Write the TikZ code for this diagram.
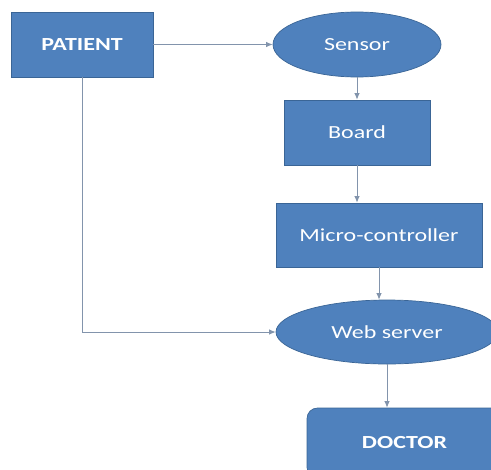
\documentclass[tikz,border=0pt]{standalone}
\usepackage{fontspec}
\setmainfont[FakeStretch=1.3]{Carlito}
\usepackage{tikz}
\usetikzlibrary{arrows.meta,positioning,shapes.geometric}
\definecolor{boxblue}{HTML}{4F81BD}
\definecolor{edgeblue}{HTML}{3A6596}
\definecolor{linkgray}{HTML}{8294AC}

\begin{document}
\begin{tikzpicture}[every node/.style={font=\fontsize{10.5}{12}\selectfont,text=white,align=center},
  box/.style={draw=edgeblue,fill=boxblue,minimum width=#1,minimum height=1.3cm,inner sep=0pt},
  oval/.style={ellipse,draw=edgeblue,fill=boxblue,minimum width=#1,minimum height=1.3cm,inner sep=0pt},
  link/.style={draw=linkgray,line width=0.5pt,-{Latex[length=1.3mm,width=1.1mm]}}]
\useasboundingbox (0,0) rectangle (9.82,-9.38);
\node[box=2.84cm] (patient) at (1.64,-0.89) {\bfseries PATIENT};
\node[oval=3.36cm] (sensor) at (7.14,-0.89) {Sensor};
\node[box=2.92cm] (board) at (7.14,-2.65) {Board};
\node[box=4.12cm,minimum height=1.28cm] (micro) at (7.58,-4.70) {Micro-controller};
\node[oval=4.44cm,minimum height=1.28cm] (web) at (7.74,-6.64) {Web server};
\node[box=3.9cm,minimum height=1.4cm,rounded corners=6pt] (doctor) at (8.09,-8.86) {\bfseries DOCTOR};
\draw[link] (patient) -- (sensor);
\draw[link] (sensor) -- (board);
\draw[link] (board.south) -- (board.south |- micro.north);
\draw[link] (micro.south) -- (micro.south |- web.north);
\draw[link] (web.south) -- (web.south |- doctor.north);
\draw[link] (patient) |- (web);
\end{tikzpicture}
\end{document}
